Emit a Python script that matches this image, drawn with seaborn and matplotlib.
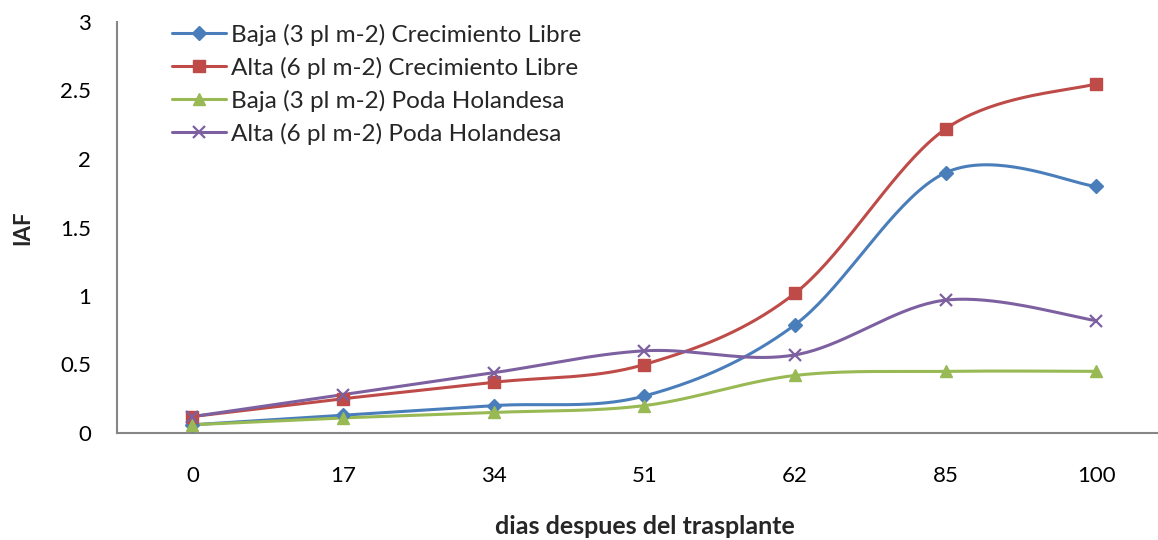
import numpy as np
import pandas as pd
import matplotlib
matplotlib.use("Agg")
import matplotlib.pyplot as plt
from matplotlib.lines import Line2D
from matplotlib.ticker import FixedLocator
import seaborn as sns

categories = ["0", "17", "34", "51", "62", "85", "100"]
baja_cl = [0.06, 0.13, 0.20, 0.27, 0.79, 1.90, 1.80]
alta_cl = [0.12, 0.25, 0.37, 0.50, 1.02, 2.22, 2.55]
baja_ph = [0.06, 0.11, 0.15, 0.20, 0.42, 0.45, 0.45]
alta_ph = [0.12, 0.28, 0.44, 0.60, 0.57, 0.97, 0.82]

series_names = ["Baja (3 pl m-2) Crecimiento Libre",
                "Alta (6 pl m-2) Crecimiento Libre",
                "Baja (3 pl m-2) Poda Holandesa",
                "Alta (6 pl m-2) Poda Holandesa"]
series_vals = [baja_cl, alta_cl, baja_ph, alta_ph]
colors = ["#4A7EBB", "#BE4B48", "#98B954", "#7D60A0"]
markers = ["D", "s", "^", "x"]
msizes = [7, 9, 9, 9]

sns.set_theme(style="white")
plt.rcParams["font.family"] = ["Lato", "DejaVu Sans"]


def smooth(xs, ys, n=40):
    # Excel-like smoothed line: cubic Bezier segments, Catmull-Rom control points
    xs = np.asarray(xs, float)
    ys = np.asarray(ys, float)
    P = np.column_stack([xs, ys])
    out = []
    for i in range(len(P) - 1):
        p0 = P[i - 1] if i > 0 else P[i]
        p1 = P[i]
        p2 = P[i + 1]
        p3 = P[i + 2] if i + 2 < len(P) else P[i + 1]
        c1 = p1 + (p2 - p0) / 6.0
        c2 = p2 - (p3 - p1) / 6.0
        t = np.linspace(0, 1, n)[:, None]
        seg = ((1 - t) ** 3) * p1 + 3 * ((1 - t) ** 2) * t * c1 + 3 * (1 - t) * t ** 2 * c2 + t ** 3 * p2
        if i > 0:
            seg = seg[1:]
        out.append(seg)
    out = np.vstack(out)
    return out[:, 0], out[:, 1]


W, H = 1158, 540
fig = plt.figure(figsize=(W / 100, H / 100), dpi=100)
left_px, right_px = 117, 1158
top_px, bot_px = 22, 433
aw, ah = right_px - left_px, bot_px - top_px
ax = fig.add_axes([left_px / W, 1 - bot_px / H, aw / W, ah / H])

idx = np.arange(len(categories))
for name, vals, c, m, ms in zip(series_names, series_vals, colors, markers, msizes):
    sx, sy = smooth(idx, vals)
    sns.lineplot(x=sx, y=sy, color=c, linewidth=2.2, ax=ax, sort=False, estimator=None)
    if m == "x":
        ax.plot(idx, vals, linestyle="none", marker=m, markersize=ms, markeredgewidth=1.6,
                color=c, zorder=5)
    else:
        ax.plot(idx, vals, linestyle="none", marker=m, markersize=ms, color=c,
                markeredgecolor=c, zorder=5)

cat_w = (1095 - 191) / 6.0
ax.set_xlim(-0.5, -0.5 + aw / cat_w)
ax.set_ylim(0, 3)
ax.set_yticks(np.arange(0, 3.01, 0.5))
ax.set_yticklabels(["0", "0.5", "1", "1.5", "2", "2.5", "3"])
ax.set_xticks(idx)
ax.set_xticklabels(categories)
ax.xaxis.set_minor_locator(FixedLocator(np.arange(-0.5, 7.0, 1.0)))

axis_color = "#868686"
for s in ["top", "right"]:
    ax.spines[s].set_visible(False)
for s in ["left", "bottom"]:
    ax.spines[s].set_color(axis_color)
    ax.spines[s].set_linewidth(1.5)

ax.tick_params(axis="x", which="major", length=0, pad=24, labelsize=16, colors="black")
ax.tick_params(axis="x", which="minor", length=6.5, width=1.5, color=axis_color, direction="out")
ax.tick_params(axis="y", which="major", length=6.5, width=1.5, color=axis_color, direction="out",
               labelsize=16, pad=12)
ax.tick_params(axis="x", which="major", labelcolor="black")
ax.tick_params(axis="y", labelcolor="black")

ax.set_xlabel("dias despues del trasplante", fontsize=18, fontweight="bold")
ax.set_ylabel("IAF", fontsize=16, fontweight="bold")
ax.xaxis.label.set_va("center")
ax.yaxis.label.set_va("center")
ax.xaxis.set_label_coords((645 - left_px) / aw, -(527 - bot_px) / ah)
ax.yaxis.set_label_coords(-(left_px - 23) / aw, (bot_px - 228) / ah)

handles = []
for c, m, ms in zip(colors, markers, msizes):
    if m == "x":
        h = Line2D([], [], color=c, linewidth=2.2, marker=m, markersize=ms, markeredgewidth=1.6)
    else:
        h = Line2D([], [], color=c, linewidth=2.2, marker=m, markersize=ms, markeredgecolor=c)
    handles.append(h)
leg_fs = 17.5
fs_px = leg_fs * 100 / 72
leg = ax.legend(handles, series_names, loc="upper left",
                bbox_to_anchor=((172 - left_px) / aw, (bot_px - 23.5) / ah),
                frameon=False, fontsize=leg_fs, handlelength=54 / fs_px,
                handletextpad=5 / fs_px, labelspacing=0.45, borderaxespad=0.0,
                borderpad=0.0)

fig.savefig("out.png", dpi=100)
